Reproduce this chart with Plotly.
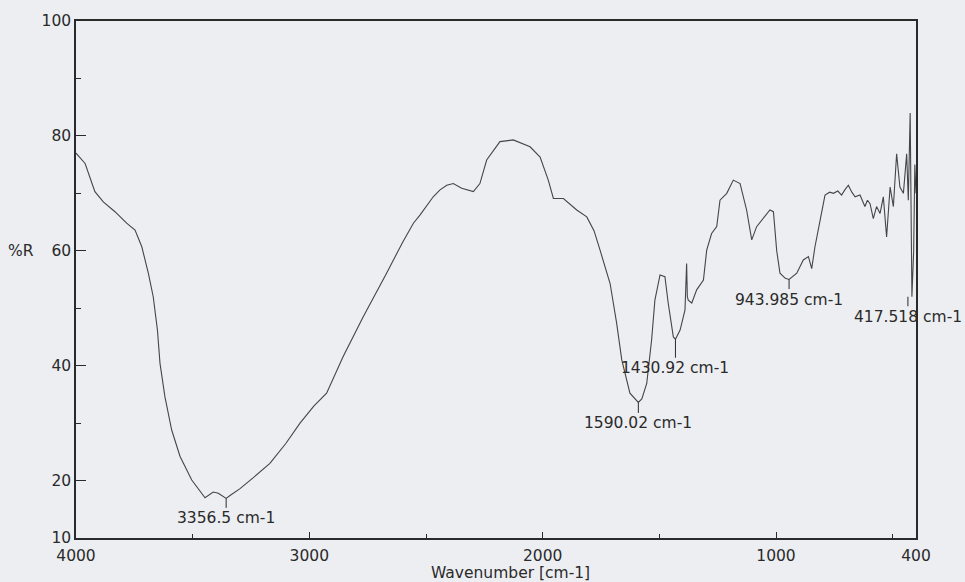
import plotly.graph_objects as go

# Wavenumber (cm-1) and %R
wavenumber = [4000, 3961, 3919, 3883, 3833, 3783, 3747, 3718, 3690, 3669, 3651, 3640, 3619, 3590,
              3554, 3504, 3447, 3412, 3390, 3370, 3356.5, 3340, 3297, 3240, 3169, 3100, 3040, 2980,
              2926, 2855, 2769, 2669, 2600, 2554, 2526, 2469, 2440, 2411, 2383, 2347, 2297, 2269,
              2240, 2183, 2126, 2054, 2011, 1976, 1954, 1911, 1854, 1811, 1780, 1754, 1711, 1683,
              1661, 1626, 1600, 1590.02, 1575, 1554, 1533, 1519, 1497, 1476, 1462, 1440, 1430.92,
              1411, 1390, 1385, 1383, 1380, 1376, 1361, 1340, 1311, 1297, 1276, 1254, 1240, 1211,
              1183, 1154, 1126, 1104, 1083, 1054, 1026, 1011, 997, 983, 960, 943.985, 925, 911, 883,
              861, 847, 833, 811, 790, 770, 754, 735, 719, 705, 690, 675, 661, 640, 619, 608, 597,
              583, 569, 554, 540, 526, 511, 497, 483, 469, 454, 440, 433, 425, 417.518, 410, 405, 400]
percent_r = [77.0, 75.2, 70.3, 68.5, 66.8, 64.8, 63.6, 60.7, 56.1, 52.0, 46.2, 40.4, 34.6, 28.8,
             24.2, 20.1, 17.0, 18.0, 17.8, 17.3, 16.9, 17.4, 18.6, 20.5, 23.0, 26.5, 30.0, 33.0,
             35.2, 41.6, 48.5, 56.1, 61.5, 64.8, 66.2, 69.4, 70.6, 71.4, 71.7, 70.9, 70.3, 71.7,
             75.8, 79.0, 79.3, 78.1, 76.3, 72.3, 69.1, 69.1, 67.1, 65.9, 63.5, 60.1, 54.3, 47.4,
             41.0, 35.2, 33.9, 33.6, 34.2, 36.9, 44.5, 51.4, 55.8, 55.5, 50.9, 45.0, 44.6,
             46.2, 49.7, 56.0, 57.8, 52.0, 51.4, 50.9, 53.2, 54.9, 60.1, 63.0, 64.2, 68.8, 70.0,
             72.3, 71.7, 67.1, 61.9, 64.2, 65.6, 67.1, 66.8, 60.0, 56.1, 55.2, 55.0, 55.7, 56.1, 58.4,
             59.0, 56.9, 60.7, 65.3, 69.7, 70.2, 70.0, 70.4, 69.7, 70.6, 71.4, 70.2, 69.4, 69.7, 67.7,
             68.8, 68.2, 65.6, 67.7, 66.5, 69.4, 62.4, 71.1, 67.7, 76.9, 71.1, 70.0, 76.9, 68.8, 84.0,
             52.0, 60.0, 75.0, 70.0]

# Labelled peaks
peak_wn = [3356.5, 1590.02, 1430.92, 943.985, 417.518]
peak_r = [16.9, 33.6, 44.6, 55.0, 52.0]
peak_labels = ["3356.5 cm-1", "1590.02 cm-1", "1430.92 cm-1", "943.985 cm-1", "417.518 cm-1"]
peak_offsets = [20, 21, 29, 20, 20]
peak_shift = [0, 0, 0, 0, -4]

x_ticks = [4000, 3000, 2000, 1000, 400]
x_minor = [3500, 2500, 1500, 500]
y_ticks = [10, 20, 40, 60, 80, 100]
y_minor = [30, 50, 70, 90]

FONT = "DejaVu Sans, Arial, sans-serif"
INK = "#2a2a2a"
PAPER = "#edeef2"
FS = 15.5

fig = go.Figure()
fig.add_trace(go.Scatter(x=wavenumber, y=percent_r, mode="lines",
                         line=dict(color="#454545", width=1.1), hoverinfo="x+y",
                         showlegend=False))

for wn, r, lab, off, sh in zip(peak_wn, peak_r, peak_labels, peak_offsets, peak_shift):
    fig.add_annotation(x=wn, y=r, text=lab, showarrow=True, arrowhead=0, arrowwidth=1,
                       arrowcolor=INK, ax=0, ay=off, xshift=sh,
                       font=dict(family=FONT, size=FS, color=INK),
                       xanchor="center", yanchor="middle")

fig.add_annotation(xref="paper", yref="paper", x=-0.0655, y=0.555, text="%R", showarrow=False,
                   font=dict(family=FONT, size=FS, color=INK), xanchor="center")
fig.add_annotation(xref="paper", yref="paper", x=0.517, y=-0.068, text="Wavenumber [cm-1]",
                   showarrow=False, font=dict(family=FONT, size=FS, color=INK),
                   xanchor="center", yanchor="middle")

fig.update_layout(
    width=965, height=582,
    margin=dict(l=76, r=49, t=21, b=44),
    paper_bgcolor=PAPER, plot_bgcolor=PAPER,
    font=dict(family=FONT, size=FS, color=INK),
    xaxis=dict(range=[4000, 400], tickmode="array", tickvals=x_ticks,
               ticktext=[str(v) for v in x_ticks], ticks="inside", ticklen=6,
               tickcolor=INK, showline=True, linecolor=INK, linewidth=1.5, mirror=True,
               showgrid=False, zeroline=False, ticklabelstandoff=3, automargin=False,
               minor=dict(tickvals=x_minor, ticks="inside", ticklen=4, tickcolor=INK)),
    yaxis=dict(range=[10, 100], tickmode="array", tickvals=y_ticks,
               ticktext=[str(v) for v in y_ticks], ticks="inside", ticklen=10,
               tickcolor=INK, showline=True, linecolor=INK, linewidth=1.5, mirror=True,
               showgrid=False, zeroline=False, automargin=False,
               minor=dict(tickvals=y_minor, ticks="inside", ticklen=5, tickcolor=INK)),
)

fig.write_html("out.html", config={"displayModeBar": False},
               post_script="document.body.style.margin='0px';"
                           "document.body.style.background='" + PAPER + "';")
